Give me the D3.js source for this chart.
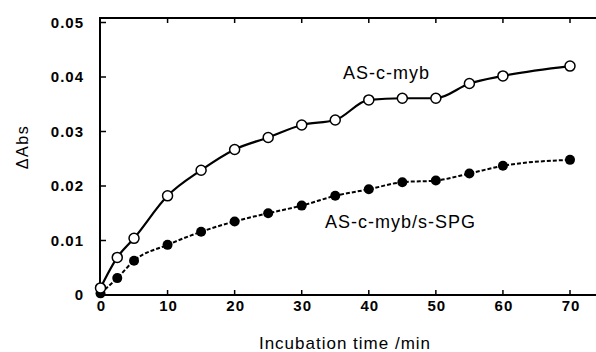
<!DOCTYPE html>
<html>
<head>
<meta charset="utf-8">
<script src="https://cdn.jsdelivr.net/npm/d3@7"></script>
<style>
  body { margin: 0; background: #fff; }
  svg { display: block; font-family: "Liberation Sans", Arial, sans-serif; }
</style>
</head>
<body>
<svg id="chart" width="596" height="352"></svg>
<script>
// incubation time (min)
const times = [0, 2.5, 5, 10, 15, 20, 25, 30, 35, 40, 45, 50, 55, 60, 70];
// ΔAbs, AS-c-myb (open circles)
const asMyb = [0.0013, 0.0069, 0.0104, 0.0182, 0.0229, 0.0267, 0.0289, 0.0312, 0.0321, 0.0358, 0.0361, 0.0361, 0.0388, 0.0402, 0.0420];
// ΔAbs, AS-c-myb/s-SPG (filled circles)
const asMybSpg = [0.0003, 0.0031, 0.0063, 0.0092, 0.0116, 0.0135, 0.0150, 0.0164, 0.0182, 0.0194, 0.0207, 0.0210, 0.0223, 0.0237, 0.0248];

const xTicks = [0, 10, 20, 30, 40, 50, 60, 70];
const yTicks = [0, 0.01, 0.02, 0.03, 0.04, 0.05];
const yTickLabels = ["0", "0.01", "0.02", "0.03", "0.04", "0.05"];

const svg = d3.select("#chart");
const W = 596;

const x = d3.scaleLinear().domain([0, 70]).range([100.5, 570]);
const y = d3.scaleLinear().domain([0, 0.05]).range([295, 22.5]);
const yTop = 18, yBot = 295, xLeft = 100;

// frame: left, bottom, top (no visible right side)
const frame = svg.append("g").attr("stroke", "#000").attr("stroke-width", 2).attr("fill", "none");
frame.append("line").attr("x1", xLeft).attr("x2", xLeft).attr("y1", yTop - 1).attr("y2", yBot + 1);
frame.append("line").attr("x1", xLeft - 1).attr("x2", W).attr("y1", yBot).attr("y2", yBot);
frame.append("line").attr("x1", xLeft - 1).attr("x2", W).attr("y1", yTop).attr("y2", yTop);

// inward ticks
const tk = svg.append("g").attr("stroke", "#000").attr("stroke-width", 1.5);
tk.selectAll(".yt").data(yTicks).join("line")
  .attr("x1", xLeft).attr("x2", xLeft + 6)
  .attr("y1", d => y(d)).attr("y2", d => y(d));
tk.selectAll(".xb").data(xTicks.slice(1)).join("line")
  .attr("x1", d => x(d)).attr("x2", d => x(d))
  .attr("y1", yBot).attr("y2", yBot - 5);
tk.selectAll(".xt").data(xTicks.slice(1)).join("line")
  .attr("x1", d => x(d)).attr("x2", d => x(d))
  .attr("y1", yTop).attr("y2", yTop + 5);

// tick labels
svg.append("g").selectAll("text").data(yTicks).join("text")
  .attr("x", 84).attr("y", d => y(d)).attr("dy", "0.36em")
  .attr("text-anchor", "end").attr("font-size", 15).attr("font-weight", "bold")
  .attr("letter-spacing", 1)
  .text((d, i) => yTickLabels[i]);

svg.append("g").selectAll("text").data(xTicks).join("text")
  .attr("x", d => x(d) + 1).attr("y", 311)
  .attr("text-anchor", "middle").attr("font-size", 15).attr("font-weight", "bold")
  .attr("letter-spacing", 1)
  .text(d => d);

// axis titles
svg.append("text")
  .attr("transform", "translate(28,147) rotate(-90)")
  .attr("text-anchor", "middle").attr("font-size", 16).attr("letter-spacing", 1.5)
  .text("ΔAbs");
svg.append("text")
  .attr("x", 345).attr("y", 349)
  .attr("text-anchor", "middle").attr("font-size", 17).attr("letter-spacing", 1)
  .text("Incubation time /min");

// series
const line = d3.line().x(d => x(d[0])).y(d => y(d[1])).curve(d3.curveMonotoneX);
const openPts = times.map((t, i) => [t, asMyb[i]]);
const fillPts = times.map((t, i) => [t, asMybSpg[i]]);

svg.append("path").datum(fillPts).attr("d", line)
  .attr("fill", "none").attr("stroke", "#000").attr("stroke-width", 2)
  .attr("stroke-dasharray", "4,2");
svg.append("path").datum(openPts).attr("d", line)
  .attr("fill", "none").attr("stroke", "#000").attr("stroke-width", 2.2);

svg.append("g").selectAll("circle").data(fillPts).join("circle")
  .attr("cx", d => x(d[0])).attr("cy", d => y(d[1])).attr("r", 5)
  .attr("fill", "#000");
svg.append("g").selectAll("circle").data(openPts).join("circle")
  .attr("cx", d => x(d[0])).attr("cy", d => y(d[1])).attr("r", 5)
  .attr("fill", "#fff").attr("stroke", "#000").attr("stroke-width", 1.5);

// series labels
svg.append("text").attr("x", 343).attr("y", 79)
  .attr("font-size", 18).attr("letter-spacing", 1)
  .text("AS-c-myb");
svg.append("text").attr("x", 325).attr("y", 228)
  .attr("font-size", 18).attr("letter-spacing", 1)
  .text("AS-c-myb/s-SPG");
</script>
</body>
</html>
